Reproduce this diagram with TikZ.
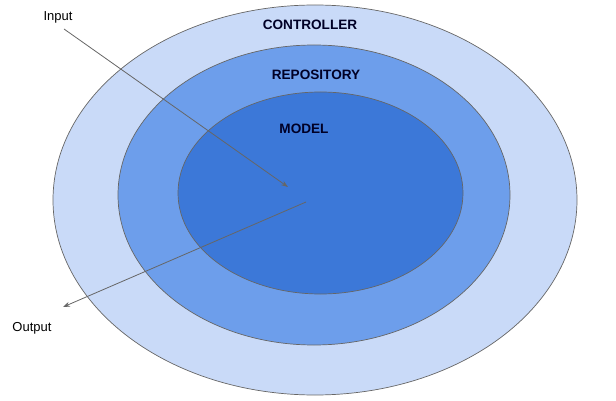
\documentclass[tikz,border=0pt]{standalone}
\usepackage{fontspec}
\setmainfont{Liberation Sans}
\usetikzlibrary{arrows.meta}
\definecolor{outerc}{HTML}{C9DAF8}
\definecolor{midc}{HTML}{6D9EEB}
\definecolor{innerc}{HTML}{3C78D8}
\definecolor{edgec}{HTML}{666666}
\definecolor{arrc}{HTML}{666666}
\begin{document}
\begin{tikzpicture}[x=1pt,y=-1pt,
  ring/.style={draw=edgec,line width=0.7pt},
  lbl/.style={font=\fontsize{13.6}{15}\selectfont\bfseries,text=black!85!blue,inner sep=0pt},
  plain/.style={font=\fontsize{13}{15}\selectfont,text=black,inner sep=0pt},
  arr/.style={draw=arrc,line width=0.8pt,-{Stealth[length=7pt,width=5pt]}}]
\useasboundingbox (0,0) rectangle (616,401);
\fill[outerc,ring] (315,200) ellipse [x radius=262, y radius=195];
\fill[midc,ring] (314,195) ellipse [x radius=196, y radius=150];
\fill[innerc,ring] (320.5,193) ellipse [x radius=142.5, y radius=101];
\node[lbl] (ctrl) at (310,25) {CONTROLLER};
\node[lbl] (repo) at (316,75) {REPOSITORY};
\node[lbl] (model) at (304,129) {MODEL};
\node[plain] (in) at (58,17) {Input};
\node[plain] (out) at (32,328.5) {Output};
\coordinate (a1s) at (64,29);
\coordinate (a1e) at (288,187);
\coordinate (a2s) at (306,202);
\coordinate (a2e) at (63,307);
\draw[arr] (a1s) -- (a1e);
\draw[arr] (a2s) -- (a2e);
\end{tikzpicture}
\end{document}
